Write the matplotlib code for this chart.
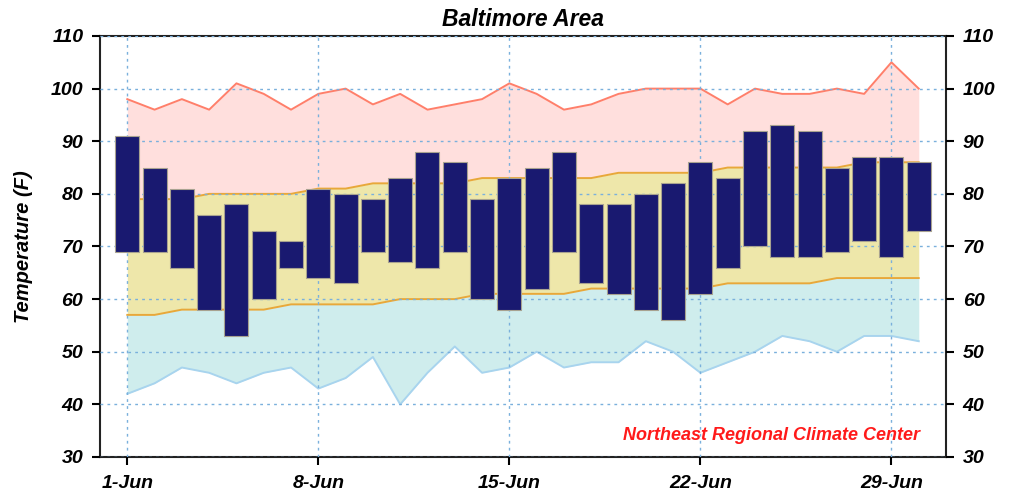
import numpy as np
import matplotlib
matplotlib.use("Agg")
import matplotlib.pyplot as plt
from matplotlib.font_manager import FontProperties

days = np.arange(1, 31)
tick_days = [1, 8, 15, 22, 29]
tick_labels = ["1-Jun", "8-Jun", "15-Jun", "22-Jun", "29-Jun"]

obs_high = [91, 85, 81, 76, 78, 73, 71, 81, 80, 79, 83, 88, 86, 79, 83,
            85, 88, 78, 78, 80, 82, 86, 83, 92, 93, 92, 85, 87, 87, 86]
obs_low = [69, 69, 66, 58, 53, 60, 66, 64, 63, 69, 67, 66, 69, 60, 58,
           62, 69, 63, 61, 58, 56, 61, 66, 70, 68, 68, 69, 71, 68, 73]

record_high = [98, 96, 98, 96, 101, 99, 96, 99, 100, 97, 99, 96, 97, 98, 101,
               99, 96, 97, 99, 100, 100, 100, 97, 100, 99, 99, 100, 99, 105, 100]
normal_high = [79, 79, 79, 80, 80, 80, 80, 81, 81, 82, 82, 82, 82, 83, 83,
               83, 83, 83, 84, 84, 84, 84, 85, 85, 85, 85, 85, 86, 86, 86]
normal_low = [57, 57, 58, 58, 58, 58, 59, 59, 59, 59, 60, 60, 60, 61, 61,
              61, 61, 62, 62, 62, 62, 62, 63, 63, 63, 63, 64, 64, 64, 64]
record_low = [42, 44, 47, 46, 44, 46, 47, 43, 45, 49, 40, 46, 51, 46, 47,
              50, 47, 48, 48, 52, 50, 46, 48, 50, 53, 52, 50, 53, 53, 52]

font = dict(family="Liberation Sans", weight="bold", style="italic")
tick_font = FontProperties(size=14, **font)

fig = plt.figure(figsize=(10.13, 4.97), dpi=100)
ax = fig.add_axes([0.0987, 0.0805, 0.8352, 0.8471])

ax.fill_between(days, normal_high, record_high, color="#ffdfdd", lw=0, zorder=1)
ax.fill_between(days, normal_low, normal_high, color="#eee7aa", lw=0, zorder=1)
ax.fill_between(days, record_low, normal_low, color="#cfeded", lw=0, zorder=1)
ax.plot(days, record_high, color="#ff7f6a", lw=1.4, zorder=2)
ax.plot(days, normal_high, color="#e8a83a", lw=1.4, zorder=2)
ax.plot(days, normal_low, color="#e8a83a", lw=1.4, zorder=2)
ax.plot(days, record_low, color="#a8d4ee", lw=1.4, zorder=2)

heights = np.array(obs_high) - np.array(obs_low)
ax.bar(days, heights, bottom=obs_low, width=0.88, color="#191970",
       edgecolor="#a8a290", lw=0.8, zorder=3)

ax.set_xlim(0, 31)
ax.set_ylim(30, 110)
ax.set_yticks(range(30, 111, 10))
ax.set_xticks(tick_days)
ax.set_xticklabels(tick_labels)
ax.grid(True, linestyle=(0, (2, 3)), color="#7ab0dc", lw=1)
ax.set_axisbelow(False)
for line in ax.get_xgridlines() + ax.get_ygridlines():
    line.set_zorder(1.5)

ax.tick_params(axis="both", direction="out", length=6, width=1.5,
               right=True, labelright=True, top=False)
ax.tick_params(axis="y", pad=6)
ax.tick_params(axis="x", pad=7)
for t in ax.xaxis.get_major_ticks() + ax.yaxis.get_major_ticks():
    t.label1.set_fontproperties(tick_font)
    t.label2.set_fontproperties(tick_font)
for s in ax.spines.values():
    s.set_linewidth(1.5)
    s.set_color("#222222")

ax.set_ylabel("Temperature (F)", fontsize=14.5, labelpad=13, **font)
ax.set_title("Baltimore Area", fontsize=16.5, pad=7, **font)
ax.text(0.969, 0.05, "Northeast Regional Climate Center", transform=ax.transAxes,
        ha="right", va="center", color="#ff1a1a", fontsize=13, zorder=5, **font)

fig.savefig("out.png", dpi=100)
